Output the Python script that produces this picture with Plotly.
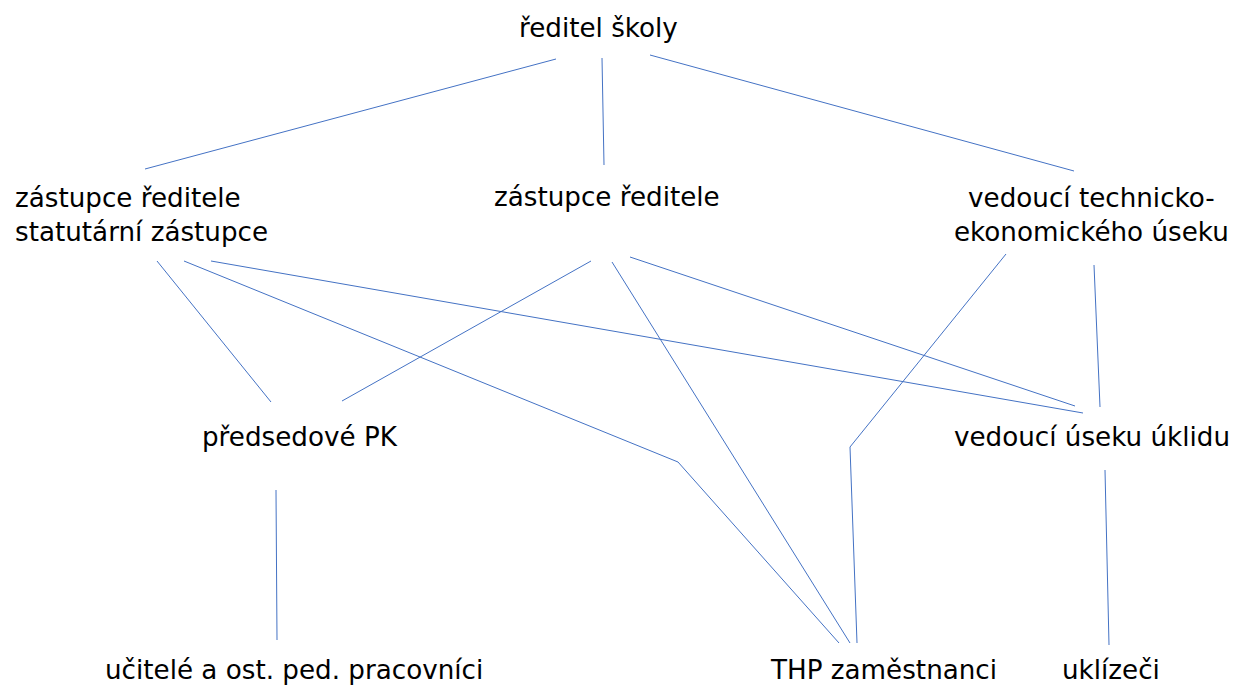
import plotly.graph_objects as go

# Nodes (labels) and their anchor positions on the canvas
node_names = ["reditel", "zast_stat", "zast", "vedouci_te", "predsedove", "vedouci_ukl",
              "ucitele", "thp", "uklizeci"]
node_labels = ["ředitel školy", "zástupce ředitele<br>statutární zástupce", "zástupce ředitele",
               "vedoucí technicko-<br>ekonomického úseku", "předsedové PK", "vedoucí úseku úklidu",
               "učitelé a ost. ped. pracovníci", "THP zaměstnanci", "uklízeči"]
node_x = [598, 13, 607, 1091, 300, 1092, 294, 883, 1111]
node_y = [28, 215, 197, 215, 437, 437, 670, 670, 670]
node_anchor = ["center", "left", "center", "center", "center", "center", "center", "center", "center"]

# Connector polylines (x and y vertex lists)
edge_x = [
    [556, 145], [602, 604], [650, 1074],
    [157, 271], [184, 678, 839], [211, 1083],
    [591, 342], [612, 850], [630, 1075],
    [1006, 850, 857], [1094, 1100],
    [276, 277], [1105, 1109],
]
edge_y = [
    [59, 169], [58, 165], [55, 171],
    [261, 402], [261, 462, 643], [261, 413],
    [261, 401], [262, 643], [257, 406],
    [254, 447, 643], [265, 407],
    [490, 640], [470, 645],
]

fig = go.Figure()
for ex, ey in zip(edge_x, edge_y):
    fig.add_trace(go.Scatter(x=ex, y=ey, mode="lines",
                             line=dict(color="#4472C4", width=1),
                             hoverinfo="skip", showlegend=False))

for lbl, x, y, anc in zip(node_labels, node_x, node_y, node_anchor):
    fig.add_annotation(x=x, y=y, text=lbl, showarrow=False, xref="x", yref="y",
                       xanchor=anc, yanchor="middle", align=anc,
                       font=dict(family="DejaVu Sans", size=26.2, color="#000000"))

# page body has an 8px margin; size the figure to fit the window and shift
# the axis ranges so data units equal page pixels
fig.update_layout(
    width=1232, height=684,
    margin=dict(l=0, r=0, t=0, b=0),
    paper_bgcolor="white", plot_bgcolor="white",
    xaxis=dict(range=[8, 1240], visible=False, fixedrange=True),
    yaxis=dict(range=[692, 8], visible=False, fixedrange=True),
    showlegend=False,
)
fig.write_html("out.html", config={"displayModeBar": False})
